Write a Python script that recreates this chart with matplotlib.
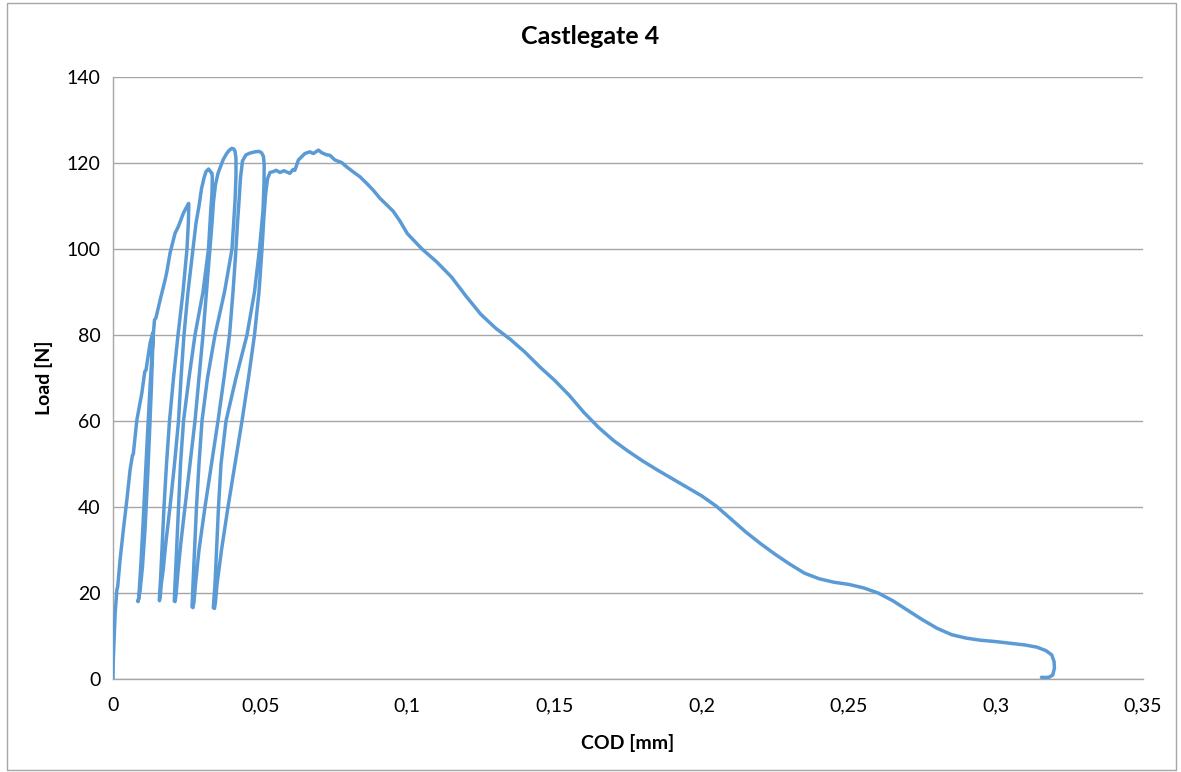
import numpy as np
import matplotlib
matplotlib.use("Agg")
import matplotlib.pyplot as plt
from matplotlib.patches import Rectangle

plt.rcParams['font.family'] = ['Lato', 'DejaVu Sans']

# Initial loading branch
cod_initial = [0, 0.0001, 0.0007, 0.0013, 0.0016, 0.0024, 0.0035, 0.0047, 0.0058,
               0.0066, 0.0069, 0.0081, 0.0098, 0.0108, 0.0112, 0.0126, 0.0135]
load_initial = [0, 4.4, 14.9, 20.7, 21.5, 27.7, 34.6, 41.6, 48.6,
                52.0, 52.3, 60.2, 66.5, 71.5, 71.8, 78.1, 80.5]

# Cycle 1: unload and reload
cod_cycle1 = [0.0136, 0.0134, 0.0130, 0.0124, 0.0117, 0.0109, 0.0100, 0.0092, 0.0087, 0.0084,
              0.0085, 0.0087, 0.0090, 0.0095, 0.0102, 0.0110, 0.0118, 0.0126, 0.0133, 0.0138, 0.0141]
load_cycle1 = [79, 75, 67, 57, 46, 35, 26, 20.5, 18.6, 18.1,
               18.0, 18.6, 21.5, 27, 36, 47, 58, 68, 76, 81, 83.5]

# Envelope up to the second peak
cod_env2 = [0.0146, 0.0160, 0.0177, 0.0183, 0.0194, 0.0211, 0.0222, 0.0239, 0.0248, 0.0257]
load_env2 = [84.0, 88.1, 92.8, 94.7, 99.1, 103.7, 105.2, 108.3, 109.5, 110.6]

# Cycle 2
cod_cycle2 = [0.02575, 0.02560, 0.02514, 0.02378, 0.02209, 0.02056, 0.01920, 0.01818, 0.01733,
              0.01665, 0.01614, 0.01583, 0.01573,
              0.01580, 0.01605, 0.01640, 0.01699, 0.01801, 0.01937, 0.02090, 0.02226, 0.02311,
              0.02412, 0.02548, 0.02718, 0.02820, 0.02922, 0.03007, 0.03092, 0.03160, 0.03245,
              0.03296, 0.03330, 0.03364]
load_cycle2 = [110.0, 106, 100, 90, 80, 70, 60, 50, 40,
               30, 23, 19.5, 18.4,
               18.2, 19.2, 22, 25, 32, 40, 50, 60, 70,
               80, 90, 100, 106, 110, 114, 116.5, 118, 118.6,
               118.2, 117.8, 117.6]

# Cycle 3
cod_cycle3 = [0.03374, 0.03364, 0.03313, 0.03245, 0.03058, 0.02786, 0.02582, 0.02396, 0.02294,
              0.02226, 0.02158, 0.02107, 0.02090, 0.02083,
              0.02107, 0.02141, 0.02209, 0.02311, 0.02446, 0.02616, 0.02786, 0.02922, 0.03058,
              0.03177, 0.03296, 0.03364, 0.03415, 0.03483, 0.03568, 0.03738, 0.03863, 0.03942,
              0.04033, 0.04095, 0.04145]
load_cycle3 = [116.5, 113, 108, 100, 90, 80, 70, 60, 50,
               40, 30, 22, 19, 18.1,
               18.0, 19.5, 25, 32, 40, 50, 60, 70, 80,
               90, 100, 106, 111, 115, 117.6, 120.7, 122.2, 122.9,
               123.4, 123.3, 122.8]

# Cycle 4
cod_cycle4 = [0.04179, 0.04179, 0.04145, 0.04044, 0.03789, 0.03466, 0.03211, 0.03024, 0.02922,
              0.02837, 0.02769, 0.02718, 0.02695, 0.02684,
              0.02718, 0.02752, 0.02803, 0.02922, 0.03126, 0.03347, 0.03568, 0.03772, 0.03959,
              0.04078, 0.04179, 0.04230, 0.04281, 0.04332, 0.04400, 0.04519, 0.04655, 0.04825,
              0.04961, 0.05046, 0.05114]
load_cycle4 = [121, 117, 111, 100, 90, 80, 70, 60, 50,
               40, 30, 22, 18, 16.8,
               16.6, 18, 22, 30, 40, 50, 60, 70, 80,
               90, 100, 106, 111, 116.5, 120.5, 121.9, 122.3, 122.6,
               122.7, 122.4, 121.5]

# Cycle 5 and the plateau after it
cod_cycle5 = [0.05138, 0.05131, 0.05097, 0.04978, 0.04808, 0.04553, 0.04179, 0.03840, 0.03670,
              0.03585, 0.03517, 0.03466, 0.03425, 0.03408,
              0.03449, 0.03483, 0.03534, 0.03687, 0.03908, 0.04145, 0.04383, 0.04604, 0.04808,
              0.04961, 0.05063, 0.05124, 0.05182, 0.05250, 0.05335, 0.05447, 0.05539, 0.05674,
              0.05810, 0.06010, 0.06120, 0.06180]
load_cycle5 = [119.5, 115, 109, 100, 90, 80, 70, 60, 50,
               40, 30, 22, 18, 16.6,
               16.4, 18, 22, 30, 40, 50, 60, 70, 80,
               90, 100, 107, 112.5, 116.3, 117.8, 118.0, 118.3, 117.8,
               118.2, 117.6, 118.5, 118.3]

# Final peak and softening branch
cod_softening = [0.0630, 0.0652, 0.0669, 0.0681, 0.0698, 0.0709, 0.0726, 0.0737, 0.0754,
                 0.0777, 0.0794, 0.0815, 0.0839, 0.0863, 0.0884, 0.0907, 0.0952, 0.0975,
                 0.100, 0.105, 0.110, 0.115, 0.120, 0.125, 0.130, 0.135, 0.140, 0.145,
                 0.150, 0.155, 0.160, 0.165, 0.170, 0.175, 0.180, 0.185, 0.190, 0.195,
                 0.200, 0.205, 0.210, 0.215, 0.220, 0.225, 0.230, 0.235, 0.240, 0.245,
                 0.250, 0.255, 0.260, 0.265, 0.270, 0.275, 0.280, 0.285, 0.290, 0.295,
                 0.300, 0.305, 0.310, 0.314, 0.317, 0.3190, 0.3198, 0.3199, 0.3193, 0.3180,
                 0.3165, 0.3155]
load_softening = [120.7, 122.2, 122.6, 122.2, 123.0, 122.4, 121.9, 121.8, 120.7,
                  120.1, 119.1, 118.0, 116.8, 115.2, 113.7, 111.8, 108.8, 106.5,
                  103.6, 100.0, 97.0, 93.5, 89.0, 84.8, 81.6, 79.0, 76.0, 72.6,
                  69.5, 66.0, 62.0, 58.5, 55.5, 53.0, 50.7, 48.6, 46.6, 44.6,
                  42.6, 40.2, 37.2, 34.2, 31.5, 29.0, 26.7, 24.6, 23.3, 22.5,
                  22.0, 21.2, 20.0, 18.2, 16.0, 13.8, 11.8, 10.3, 9.5, 9.0,
                  8.7, 8.3, 7.9, 7.4, 6.6, 5.6, 4.0, 2.5, 0.9, 0.4,
                  0.35, 0.4]

cod = np.concatenate([cod_initial, cod_cycle1, cod_env2, cod_cycle2, cod_cycle3,
                      cod_cycle4, cod_cycle5, cod_softening])
load = np.concatenate([load_initial, load_cycle1, load_env2, load_cycle2, load_cycle3,
                       load_cycle4, load_cycle5, load_softening])

x_ticks = [0, 0.05, 0.1, 0.15, 0.2, 0.25, 0.3, 0.35]
x_tick_labels = ["0", "0,05", "0,1", "0,15", "0,2", "0,25", "0,3", "0,35"]
y_ticks = [0, 20, 40, 60, 80, 100, 120, 140]
y_tick_labels = ["0", "20", "40", "60", "80", "100", "120", "140"]

W, H = 1181, 772
fig = plt.figure(figsize=(W / 100, H / 100), dpi=100)
ax = fig.add_axes([113 / W, 1 - 679 / H, (1143 - 113) / W, (679 - 77) / H])

ax.plot(cod, load, color="#5B9BD5", lw=2.5, solid_joinstyle="round",
        solid_capstyle="round", zorder=3)

ax.set_xlim(0, 0.35)
ax.set_ylim(0, 140)
ax.set_xticks(x_ticks)
ax.set_xticklabels(x_tick_labels)
ax.set_yticks(y_ticks)
ax.set_yticklabels(y_tick_labels)
ax.tick_params(length=0, labelsize=14, colors="#000000", pad=9)
ax.tick_params(axis="x", pad=13)
ax.grid(axis="y", color="#a6a6a6", lw=1.0)
ax.set_axisbelow(True)
for s in ("top", "right"):
    ax.spines[s].set_visible(False)
for s in ("left", "bottom"):
    ax.spines[s].set_color("#a6a6a6")
    ax.spines[s].set_linewidth(1.0)

ax.set_xlabel("COD [mm]", fontsize=14, fontweight="bold", labelpad=14)
ax.set_ylabel("Load [N]", fontsize=14, fontweight="bold", labelpad=10)
fig.text(0.5, 1 - 37 / H, "Castlegate 4", ha="center", va="center",
         fontsize=18, fontweight="bold")

fig.patches.append(Rectangle((7 / W, 2 / H), (1176 - 7) / W, (769 - 2) / H,
                             transform=fig.transFigure, fill=False,
                             edgecolor="#a6a6a6", lw=1.0))

fig.savefig("out.png", dpi=100, facecolor="white")
